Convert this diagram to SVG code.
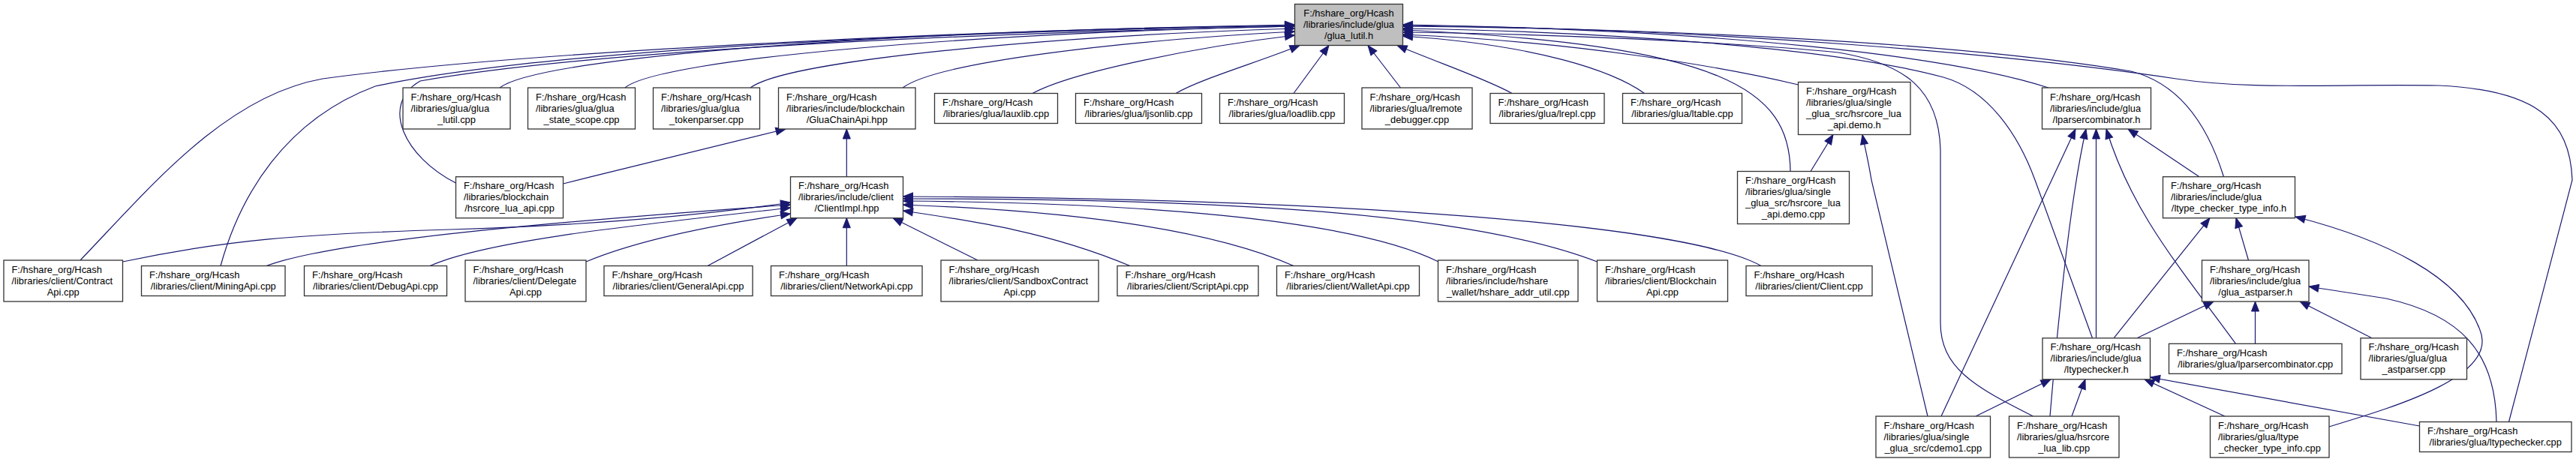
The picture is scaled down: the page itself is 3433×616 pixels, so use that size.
<svg xmlns="http://www.w3.org/2000/svg" width="3433" height="616" viewBox="0 0 3433 616">
<style>
.n rect{fill:#fff;stroke:#333;stroke-width:1.3}
.n.root rect{fill:#bfbfbf}
.n text{font-family:"Liberation Sans",Arial,Helvetica,sans-serif;font-size:12.9px;fill:#000}
.n text.m{text-anchor:middle}
.c path{fill:none;stroke:#191970;stroke-width:1.2;marker-end:url(#ah)}
</style>
<defs>
<marker id="ah" markerUnits="userSpaceOnUse" markerWidth="14" markerHeight="11" refX="13" refY="5" orient="auto" overflow="visible">
<path d="M0,0 L13,5 L0,10 Z" fill="#191970" stroke="#191970" stroke-width="1"/>
</marker>
</defs>
<rect x="0" y="0" width="3433" height="616" fill="#fff"/>
<g id="connectors" class="c">
<path d="M107,347 C200,250 300,128 430,105 C700,68 1300,40 1725.5,33"/>
<path d="M294,354.5 C320,260 380,160 500,115 C750,62 1300,42 1725.5,34"/>
<path d="M607.5,244 C540,210 505,140 560,108 C800,66 1300,44 1725.5,35"/>
<path d="M666,117 C720,75 1200,40 1725.5,34"/>
<path d="M833,117 C880,78 1300,44 1725.5,35"/>
<path d="M1000,117 C1050,80 1400,48 1725.5,38"/>
<path d="M1203,117 C1250,82 1500,54 1725.5,42"/>
<path d="M1376,124.5 C1430,95 1600,62 1725.5,47"/>
<path d="M1567,124.5 C1600,105 1680,82 1732,60.5"/>
<path d="M1724,124.5 L1771,60.5"/>
<path d="M1866.5,117 L1823,60.5"/>
<path d="M2015,124.5 C1980,105 1920,85 1862,60.5"/>
<path d="M2191.5,124.5 C2150,95 2050,60 1869.5,48"/>
<path d="M2396.5,113 C2300,90 2100,55 1869.5,46"/>
<path d="M2730,117 C2600,75 2300,40 1869.5,33"/>
<path d="M2386,228.5 C2385,120 2300,60 1869.5,40"/>
<path d="M2709.5,555 C2630,515 2586,490 2586,430 L2586,200 C2584,120 2540,85 2450,70 C2300,55 2050,45 1869.5,43"/>
<path d="M2788.5,450.8 L2712,240 C2690,180 2650,120 2590,103 C2450,65 2150,42 1869.5,38"/>
<path d="M2963.5,235.7 C2940,160 2900,110 2840,95 C2600,55 2200,38 1869.5,35"/>
<path d="M3343.5,562.5 L3428,240 C3425,160 3380,120 3250,114 C3100,112 3000,120 2900,105 C2700,75 2300,38 1869.5,34"/>
<path d="M1128.3,235.7 L1128.3,172"/>
<path d="M750.5,245 C850,220 950,195 1047,172"/>
<path d="M163.5,349 C300,320 400,312 600,306 C800,300 950,285 1053.5,270"/>
<path d="M355,354.5 C420,330 600,305 1053.5,273"/>
<path d="M573,354.5 C650,320 850,300 1053.5,277"/>
<path d="M781,349 C850,320 950,300 1053.5,285"/>
<path d="M943,354.5 L1062,290.7"/>
<path d="M1128.3,354.5 L1128.3,290.7"/>
<path d="M1303,347 L1190,290.7"/>
<path d="M1506,354.5 C1400,310 1300,295 1203.5,281"/>
<path d="M1724,354.5 C1600,300 1400,280 1203.5,273"/>
<path d="M1917,349 C1800,290 1500,270 1203.5,268"/>
<path d="M2128.5,349 C1950,280 1600,265 1203.5,265"/>
<path d="M2347,354.5 C2250,300 1800,265 1203.5,262"/>
<path d="M2413,228.5 L2443,179.5"/>
<path d="M2569,555 L2494,240 C2490,215 2485,195 2482,179.5"/>
<path d="M2587,555 L2766,172"/>
<path d="M2732,555 C2745,400 2760,260 2780,172"/>
<path d="M2793.5,450.8 L2793.5,172"/>
<path d="M2979.5,458.3 C2900,350 2840,280 2807,172"/>
<path d="M2931,235.7 L2836,172"/>
<path d="M2817,450.8 L2945,290.7"/>
<path d="M2996.5,347 L2980,290.7"/>
<path d="M3104,569 C3200,540 3330,500 3305,440 C3280,370 3180,320 3059,289"/>
<path d="M2848,450.8 L2950,402"/>
<path d="M3005.5,458.3 L3005.5,402"/>
<path d="M3161,450.8 L3065,402"/>
<path d="M3327,562.5 C3325,470 3280,420 3180,398 C3130,390 3100,386 3077,382"/>
<path d="M2633,555 L2733,505.8"/>
<path d="M2761,555 L2779,505.8"/>
<path d="M2965,555 L2858,505.8"/>
<path d="M3224.5,568 L2865.5,503"/>
</g>
<g id="node_glua_lutil_h" class="n root"><rect x="1725.5" y="5.5" width="144" height="55"/><text class="m" x="1797.5" y="22">F:/hshare_org/Hcash</text><text class="m" x="1797.5" y="37">/libraries/include/glua</text><text class="m" x="1797.5" y="52">/glua_lutil.h</text></g>
<g id="node_glua_lutil_cpp" class="n"><rect x="537" y="117" width="143" height="55"/><text x="547.5" y="133.5">F:/hshare_org/Hcash</text><text x="547.5" y="148.5">/libraries/glua/glua</text><text class="m" x="608.5" y="163.5">_lutil.cpp</text></g>
<g id="node_glua_state_scope" class="n"><rect x="703.5" y="117" width="143" height="55"/><text x="714" y="133.5">F:/hshare_org/Hcash</text><text x="714" y="148.5">/libraries/glua/glua</text><text class="m" x="775" y="163.5">_state_scope.cpp</text></g>
<g id="node_glua_tokenparser" class="n"><rect x="870.5" y="117" width="142" height="55"/><text x="881" y="133.5">F:/hshare_org/Hcash</text><text x="881" y="148.5">/libraries/glua/glua</text><text class="m" x="941.5" y="163.5">_tokenparser.cpp</text></g>
<g id="node_GluaChainApi" class="n"><rect x="1037.5" y="117" width="182.5" height="55"/><text x="1048" y="133.5">F:/hshare_org/Hcash</text><text x="1048" y="148.5">/libraries/include/blockchain</text><text class="m" x="1128.75" y="163.5">/GluaChainApi.hpp</text></g>
<g id="node_lauxlib" class="n"><rect x="1245.5" y="124.5" width="164" height="40"/><text x="1256" y="141">F:/hshare_org/Hcash</text><text class="m" x="1327.5" y="156">/libraries/glua/lauxlib.cpp</text></g>
<g id="node_ljsonlib" class="n"><rect x="1433.5" y="124.5" width="168" height="40"/><text x="1444" y="141">F:/hshare_org/Hcash</text><text class="m" x="1517.5" y="156">/libraries/glua/ljsonlib.cpp</text></g>
<g id="node_loadlib" class="n"><rect x="1625.5" y="124.5" width="166" height="40"/><text x="1636" y="141">F:/hshare_org/Hcash</text><text class="m" x="1708.5" y="156">/libraries/glua/loadlib.cpp</text></g>
<g id="node_lremote_debugger" class="n"><rect x="1815" y="117" width="147" height="55"/><text x="1825.5" y="133.5">F:/hshare_org/Hcash</text><text x="1825.5" y="148.5">/libraries/glua/lremote</text><text class="m" x="1888.5" y="163.5">_debugger.cpp</text></g>
<g id="node_lrepl" class="n"><rect x="1986" y="124.5" width="152" height="40"/><text x="1996.5" y="141">F:/hshare_org/Hcash</text><text class="m" x="2062" y="156">/libraries/glua/lrepl.cpp</text></g>
<g id="node_ltable" class="n"><rect x="2162.5" y="124.5" width="159" height="40"/><text x="2173" y="141">F:/hshare_org/Hcash</text><text class="m" x="2242" y="156">/libraries/glua/ltable.cpp</text></g>
<g id="node_demo_h" class="n"><rect x="2396.5" y="109.5" width="149.5" height="70"/><text x="2407" y="126">F:/hshare_org/Hcash</text><text x="2407" y="141">/libraries/glua/single</text><text x="2407" y="156">_glua_src/hsrcore_lua</text><text class="m" x="2471.25" y="171">_api.demo.h</text></g>
<g id="node_lparsercombinator_h" class="n"><rect x="2721.5" y="117" width="145" height="55"/><text x="2732" y="133.5">F:/hshare_org/Hcash</text><text x="2732" y="148.5">/libraries/include/glua</text><text class="m" x="2794" y="163.5">/lparsercombinator.h</text></g>
<g id="node_hsrcore_lua_api_cpp" class="n"><rect x="607.5" y="235.7" width="143" height="55"/><text x="618" y="252.2">F:/hshare_org/Hcash</text><text x="618" y="267.2">/libraries/blockchain</text><text class="m" x="679" y="282.2">/hsrcore_lua_api.cpp</text></g>
<g id="node_ClientImpl" class="n"><rect x="1053.5" y="235.7" width="150" height="55"/><text x="1064" y="252.2">F:/hshare_org/Hcash</text><text x="1064" y="267.2">/libraries/include/client</text><text class="m" x="1128.5" y="282.2">/ClientImpl.hpp</text></g>
<g id="node_demo_cpp" class="n"><rect x="2315.5" y="228.5" width="149" height="70"/><text x="2326" y="245">F:/hshare_org/Hcash</text><text x="2326" y="260">/libraries/glua/single</text><text x="2326" y="275">_glua_src/hsrcore_lua</text><text class="m" x="2390" y="290">_api.demo.cpp</text></g>
<g id="node_ltype_checker_type_info_h" class="n"><rect x="2882.5" y="235.7" width="176" height="55"/><text x="2893" y="252.2">F:/hshare_org/Hcash</text><text x="2893" y="267.2">/libraries/include/glua</text><text class="m" x="2970.5" y="282.2">/ltype_checker_type_info.h</text></g>
<g id="node_ContractApi" class="n"><rect x="5" y="347" width="158.5" height="55"/><text x="15.5" y="363.5">F:/hshare_org/Hcash</text><text x="15.5" y="378.5">/libraries/client/Contract</text><text class="m" x="84.25" y="393.5">Api.cpp</text></g>
<g id="node_MiningApi" class="n"><rect x="188.5" y="354.5" width="191.5" height="40"/><text x="199" y="371">F:/hshare_org/Hcash</text><text class="m" x="284.25" y="386">/libraries/client/MiningApi.cpp</text></g>
<g id="node_DebugApi" class="n"><rect x="405.5" y="354.5" width="190" height="40"/><text x="416" y="371">F:/hshare_org/Hcash</text><text class="m" x="500.5" y="386">/libraries/client/DebugApi.cpp</text></g>
<g id="node_DelegateApi" class="n"><rect x="620" y="347" width="161" height="55"/><text x="630.5" y="363.5">F:/hshare_org/Hcash</text><text x="630.5" y="378.5">/libraries/client/Delegate</text><text class="m" x="700.5" y="393.5">Api.cpp</text></g>
<g id="node_GeneralApi" class="n"><rect x="805" y="354.5" width="198" height="40"/><text x="815.5" y="371">F:/hshare_org/Hcash</text><text class="m" x="904" y="386">/libraries/client/GeneralApi.cpp</text></g>
<g id="node_NetworkApi" class="n"><rect x="1027.5" y="354.5" width="201.5" height="40"/><text x="1038" y="371">F:/hshare_org/Hcash</text><text class="m" x="1128.25" y="386">/libraries/client/NetworkApi.cpp</text></g>
<g id="node_SandboxContractApi" class="n"><rect x="1254" y="347" width="210" height="55"/><text x="1264.5" y="363.5">F:/hshare_org/Hcash</text><text x="1264.5" y="378.5">/libraries/client/SandboxContract</text><text class="m" x="1359" y="393.5">Api.cpp</text></g>
<g id="node_ScriptApi" class="n"><rect x="1489" y="354.5" width="188" height="40"/><text x="1499.5" y="371">F:/hshare_org/Hcash</text><text class="m" x="1583" y="386">/libraries/client/ScriptApi.cpp</text></g>
<g id="node_WalletApi" class="n"><rect x="1701.5" y="354.5" width="190" height="40"/><text x="1712" y="371">F:/hshare_org/Hcash</text><text class="m" x="1796.5" y="386">/libraries/client/WalletApi.cpp</text></g>
<g id="node_hshare_addr_util" class="n"><rect x="1916.5" y="347" width="186.5" height="55"/><text x="1927" y="363.5">F:/hshare_org/Hcash</text><text x="1927" y="378.5">/libraries/include/hshare</text><text class="m" x="2009.75" y="393.5">_wallet/hshare_addr_util.cpp</text></g>
<g id="node_BlockchainApi" class="n"><rect x="2128.5" y="347" width="174" height="55"/><text x="2139" y="363.5">F:/hshare_org/Hcash</text><text x="2139" y="378.5">/libraries/client/Blockchain</text><text class="m" x="2215.5" y="393.5">Api.cpp</text></g>
<g id="node_Client_cpp" class="n"><rect x="2327" y="354.5" width="168" height="40"/><text x="2337.5" y="371">F:/hshare_org/Hcash</text><text class="m" x="2411" y="386">/libraries/client/Client.cpp</text></g>
<g id="node_glua_astparser_h" class="n"><rect x="2934.5" y="347" width="142.5" height="55"/><text x="2945" y="363.5">F:/hshare_org/Hcash</text><text x="2945" y="378.5">/libraries/include/glua</text><text class="m" x="3005.75" y="393.5">/glua_astparser.h</text></g>
<g id="node_ltypechecker_h" class="n"><rect x="2722" y="450.8" width="143.5" height="55"/><text x="2732.5" y="467.3">F:/hshare_org/Hcash</text><text x="2732.5" y="482.3">/libraries/include/glua</text><text class="m" x="2793.75" y="497.3">/ltypechecker.h</text></g>
<g id="node_lparsercombinator_cpp" class="n"><rect x="2890.5" y="458.3" width="230.5" height="40"/><text x="2901" y="474.8">F:/hshare_org/Hcash</text><text class="m" x="3005.75" y="489.8">/libraries/glua/lparsercombinator.cpp</text></g>
<g id="node_glua_astparser_cpp" class="n"><rect x="3146" y="450.8" width="141.5" height="55"/><text x="3156.5" y="467.3">F:/hshare_org/Hcash</text><text x="3156.5" y="482.3">/libraries/glua/glua</text><text class="m" x="3216.75" y="497.3">_astparser.cpp</text></g>
<g id="node_cdemo1" class="n"><rect x="2500" y="555" width="152.5" height="55"/><text x="2510.5" y="571.5">F:/hshare_org/Hcash</text><text x="2510.5" y="586.5">/libraries/glua/single</text><text class="m" x="2576.25" y="601.5">_glua_src/cdemo1.cpp</text></g>
<g id="node_hsrcore_lua_lib" class="n"><rect x="2677.5" y="555" width="146.5" height="55"/><text x="2688" y="571.5">F:/hshare_org/Hcash</text><text x="2688" y="586.5">/libraries/glua/hsrcore</text><text class="m" x="2750.75" y="601.5">_lua_lib.cpp</text></g>
<g id="node_ltype_checker_type_info_cpp" class="n"><rect x="2945.5" y="555" width="158.5" height="55"/><text x="2956" y="571.5">F:/hshare_org/Hcash</text><text x="2956" y="586.5">/libraries/glua/ltype</text><text class="m" x="3024.75" y="601.5">_checker_type_info.cpp</text></g>
<g id="node_ltypechecker_cpp" class="n"><rect x="3224.5" y="562.5" width="202.5" height="40"/><text x="3235" y="579">F:/hshare_org/Hcash</text><text class="m" x="3325.75" y="594">/libraries/glua/ltypechecker.cpp</text></g>
</svg>
